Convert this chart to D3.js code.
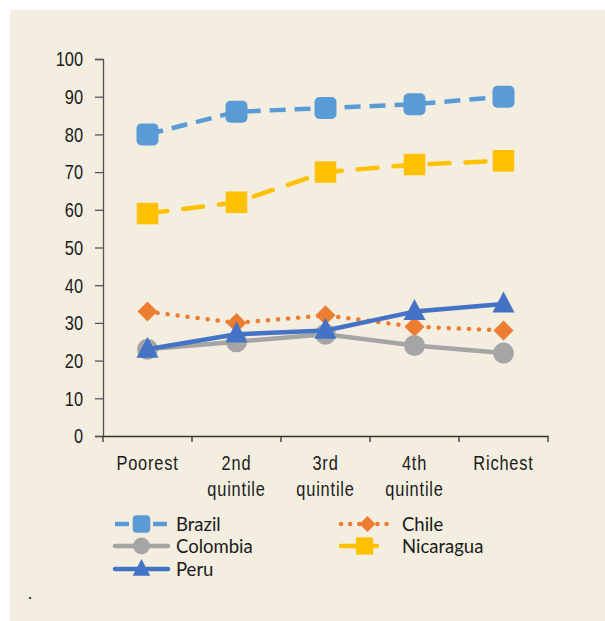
<!DOCTYPE html>
<html><head><meta charset="utf-8">
<script src="https://cdn.jsdelivr.net/npm/d3@7"></script>
<style>body{margin:0;background:#fff}</style>
</head><body>
<script>
const categories = ["Poorest", "2nd\nquintile", "3rd\nquintile", "4th\nquintile", "Richest"];
const yTicks = [0,10,20,30,40,50,60,70,80,90,100];
const brazil = [80, 86, 87, 88, 90];
const chile = [33, 30, 32, 29, 28];
const colombia = [23, 25, 27, 24, 22];
const nicaragua = [59, 62, 70, 72, 73];
const peru = [23, 27, 28, 33, 35];

const series = [
  {name:"Brazil", values:brazil, color:"#5b9bd5", dash:"16,9", marker:"rsquare", cap:"butt"},
  {name:"Chile", values:chile, color:"#ed7d31", dash:"0.1,10", marker:"diamond", cap:"round"},
  {name:"Colombia", values:colombia, color:"#a5a5a5", dash:null, marker:"circle", cap:"round"},
  {name:"Nicaragua", values:nicaragua, color:"#ffc000", dash:"20,16", marker:"square", cap:"round"},
  {name:"Peru", values:peru, color:"#4472c4", dash:null, marker:"triangle", cap:"round"}
];

const W = 605, H = 621;
const svg = d3.select("body").append("svg").attr("width", W).attr("height", H);
svg.append("rect").attr("x",10).attr("y",10).attr("width",W-10).attr("height",H-10).attr("fill","#f3eee0");

const x = d3.scaleBand().domain(categories).range([103, 548]);
const y = d3.scaleLinear().domain([0,100]).range([436, 59]);
const axisFont = "'Liberation Sans',Arial,sans-serif";
const SX = 0.82;

function narrowText(px, py, str, anchor, ls) {
  return svg.append("text").attr("transform",`translate(${px},${py}) scale(${SX},1)`)
    .attr("text-anchor",anchor).attr("font-family",axisFont).attr("font-size",20)
    .attr("letter-spacing", ls || 0)
    .attr("fill","#1a1a1a").text(str);
}

// y axis
const ya = svg.append("g").attr("transform","translate(103,0)")
  .call(d3.axisLeft(y).tickValues(yTicks).tickSize(8).tickFormat(""));
ya.select(".domain").attr("stroke","#555").attr("stroke-width",1.3);
ya.selectAll(".tick line").attr("stroke","#555").attr("stroke-width",1.3);
yTicks.forEach(t => narrowText(83, y(t)+7.3, String(t), "end"));

// x axis
const xa = svg.append("g").attr("transform","translate(0,436)")
  .call(d3.axisBottom(x).tickSize(0).tickFormat(""));
xa.select(".domain").attr("stroke","#333").attr("stroke-width",1.3);
const bounds = categories.map(c => x(c)).concat([x.range()[1]]);
xa.selectAll(".bt").data(bounds).enter().append("line").attr("class","bt")
  .attr("x1",d=>d).attr("x2",d=>d).attr("y1",0).attr("y2",6).attr("stroke","#333").attr("stroke-width",1.3);
const cx = c => x(c) + x.bandwidth()/2;
categories.forEach(c => {
  c.split("\n").forEach((l,i) => narrowText(cx(c), 470 + i*26, l, "middle", 1));
});

const line = d3.line().x((d,i)=>cx(categories[i])).y(d=>y(d));

function drawMarker(g, type, px, py, color, scale=1) {
  if (type==="rsquare") {
    const s=22*scale;
    g.append("rect").attr("x",px-s/2).attr("y",py-s/2).attr("width",s).attr("height",s).attr("rx",5*scale).attr("fill",color);
  } else if (type==="square") {
    const s=21.5*scale;
    g.append("rect").attr("x",px-s/2).attr("y",py-s/2).attr("width",s).attr("height",s).attr("fill",color);
  } else if (type==="diamond") {
    const r=10*scale;
    g.append("path").attr("d",`M${px},${py-r}L${px+r},${py}L${px},${py+r}L${px-r},${py}Z`).attr("fill",color);
  } else if (type==="circle") {
    g.append("circle").attr("cx",px).attr("cy",py).attr("r",10.5*scale).attr("fill",color);
  } else if (type==="triangle") {
    const w=22*scale, h=21*scale;
    g.append("path").attr("d",`M${px},${py-h*0.6}L${px+w/2},${py+h*0.4}L${px-w/2},${py+h*0.4}Z`).attr("fill",color);
  }
}

series.forEach(s => {
  const g = svg.append("g");
  g.append("path").datum(s.values).attr("d",line).attr("fill","none").attr("stroke",s.color)
    .attr("stroke-width",4.5).attr("stroke-dasharray",s.dash)
    .attr("stroke-linecap",s.cap).attr("stroke-linejoin","round");
  s.values.forEach((v,i)=>drawMarker(g, s.marker, cx(categories[i]), y(v), s.color));
});

// legend
const legendFont = "Lato,'Open Sans',sans-serif";
const legendPos = [
  {s:0, lx:115, ly:524, dash:"14,5", cap:"butt"},
  {s:1, lx:341, ly:524, dash:"0.1,9", cap:"round"},
  {s:2, lx:115, ly:546, dash:null, cap:"round"},
  {s:3, lx:341, ly:546, dash:"36,17", cap:"round"},
  {s:4, lx:115, ly:569, dash:null, cap:"round"}
];
legendPos.forEach(p => {
  const s = series[p.s];
  const g = svg.append("g");
  const x1 = p.lx, x2 = p.lx + 53;
  g.append("line").attr("x1",x1).attr("x2",x2).attr("y1",p.ly).attr("y2",p.ly)
    .attr("stroke",s.color).attr("stroke-width",4.5).attr("stroke-dasharray",p.dash)
    .attr("stroke-linecap",p.cap);
  drawMarker(g, s.marker, (x1+x2)/2 + (s.name==="Nicaragua"?-3:0), p.ly, s.color, 0.8);
  g.append("text").attr("x", p.lx + 61).attr("y", p.ly+6.5)
    .attr("font-family",legendFont).attr("font-size",18.5).attr("fill","#1a1a1a").text(s.name);
});

svg.append("text").attr("x",28).attr("y",599).attr("font-family",legendFont).attr("font-size",17).attr("fill","#1a1a1a").text(".");
</script>
</body></html>
